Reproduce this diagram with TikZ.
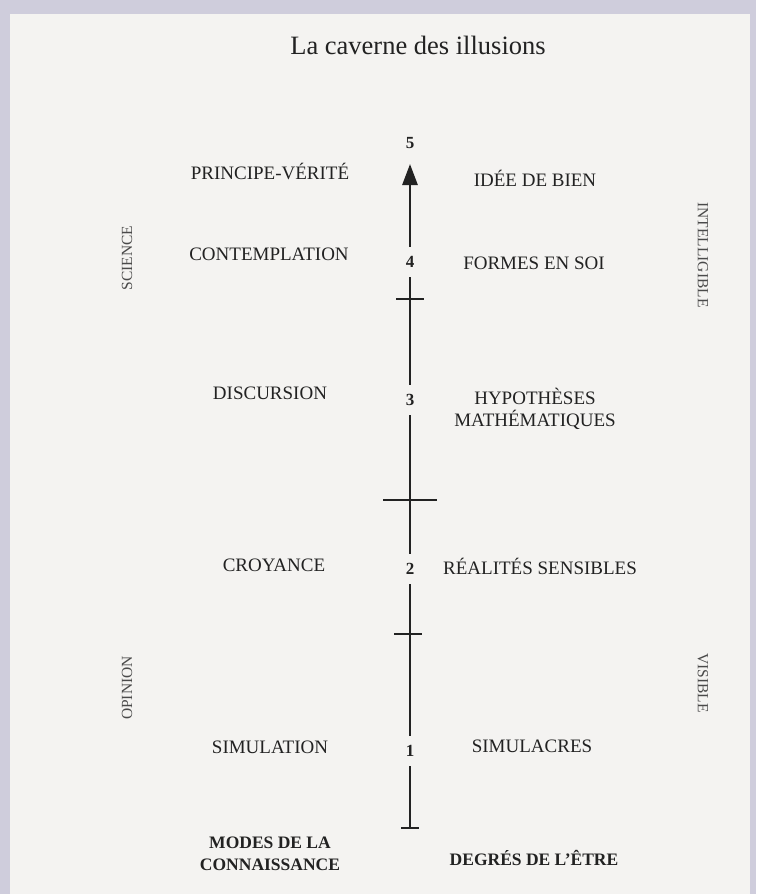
\documentclass[tikz,border=0pt]{standalone}
\usepackage{fontspec}
\setmainfont{Liberation Serif}
\usetikzlibrary{arrows.meta,shadings}
\definecolor{ink}{HTML}{222222}
\definecolor{soft}{HTML}{4A4A4A}
\definecolor{paper}{HTML}{F4F3F1}
\definecolor{frame}{HTML}{CFCDDC}
\begin{document}
\begin{tikzpicture}[x=1pt,y=-1pt,
  lab/.style={font=\fontsize{19}{22}\selectfont, text=ink, inner sep=0pt, align=center},
  blab/.style={font=\fontsize{17.5}{22}\selectfont\bfseries, text=ink, inner sep=0pt, align=center},
  side/.style={font=\fontsize{15.5}{18}\selectfont, text=soft, inner sep=0pt},
  num/.style={font=\fontsize{17}{20}\selectfont\bfseries, text=ink, inner sep=0pt, minimum height=30pt},
  axis/.style={draw=ink, line width=2.8pt},
  tick/.style={draw=ink, line width=2.3pt}]
\useasboundingbox (0,0) rectangle (756,894);
\fill[frame] (0,0) rectangle (756,894);
\fill[paper] (10,14) rectangle (750,894);
% title
\node[font=\fontsize{26.5}{30}\selectfont, text=ink, inner sep=0pt] (title) at (418,45) {La caverne des illusions};
% axis numbers
\node[num] (n5) at (410,143) {5};
\node[num] (n4) at (410,262) {4};
\node[num] (n3) at (410,400) {3};
\node[num] (n2) at (410,569) {2};
\node[num] (n1) at (410,751) {1};
\coordinate (tip) at (410,164);
\coordinate (bot) at (410,828);
\draw[axis,-{Triangle[width=15pt,length=21pt]}] (n4) -- (tip);
\draw[axis] (n4) -- (n3);
\draw[axis] (n3) -- (n2);
\draw[axis] (n2) -- (n1);
\draw[axis] (n1) -- (bot);
% ticks
\coordinate (t4l) at (396,299); \coordinate (t4r) at (424,299);
\coordinate (t3l) at (383,500); \coordinate (t3r) at (437,500);
\coordinate (t2l) at (394,634); \coordinate (t2r) at (422,634);
\coordinate (bl) at (401,828); \coordinate (br) at (419,828);
\draw[tick] (t4l) -- (t4r);
\draw[tick] (t3l) -- (t3r);
\draw[tick] (t2l) -- (t2r);
\draw[tick] (bl) -- (br);
% left labels
\node[lab] (l5) at (270,171) {PRINCIPE-VÉRITÉ};
\node[lab] (l4) at (269,254) {CONTEMPLATION};
\node[lab] (l3) at (270,393) {DISCURSION};
\node[lab] (l2) at (274,565) {CROYANCE};
\node[lab] (l1) at (270,747) {SIMULATION};
\node[blab] (lb) at (270,854) {MODES DE LA\\CONNAISSANCE};
% right labels
\node[lab] (r5) at (535,178) {IDÉE DE BIEN};
\node[lab] (r4) at (534,263) {FORMES EN SOI};
\node[lab] (r3) at (535,409) {HYPOTHÈSES\\MATHÉMATIQUES};
\node[lab] (r2) at (540,566) {RÉALITÉS SENSIBLES};
\node[lab] (r1) at (532,746) {SIMULACRES};
\node[blab] (rb) at (534,858) {DEGRÉS DE L’ÊTRE};
% side labels
\node[side, rotate=90] (sci) at (127,258) {SCIENCE};
\node[side, rotate=90] (opi) at (127,688) {OPINION};
\node[side, rotate=-90] (intel) at (703,255) {INTELLIGIBLE};
\node[side, rotate=-90] (vis) at (703,683) {VISIBLE};
\end{tikzpicture}
\end{document}
